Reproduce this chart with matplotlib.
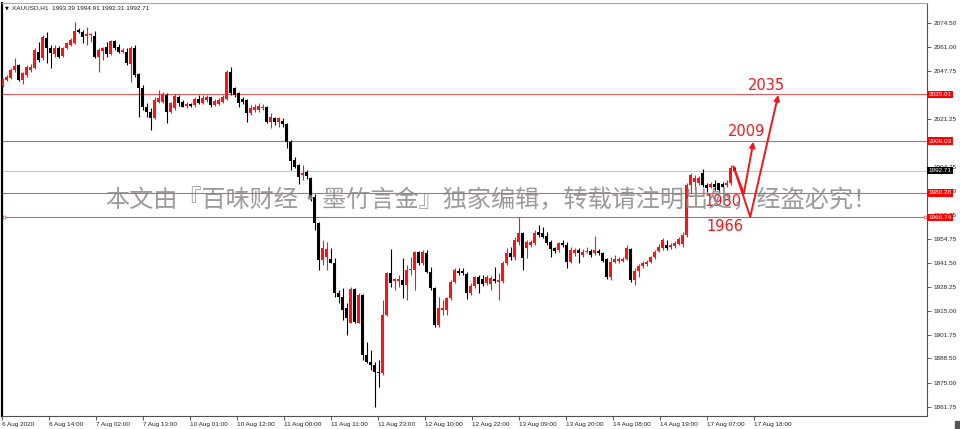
import matplotlib
matplotlib.use("Agg")
import matplotlib.pyplot as plt
from matplotlib.patches import Rectangle
import numpy as np

plt.rcParams['font.family'] = ['Liberation Sans', 'DejaVu Sans']

# XAUUSD H1 candles
opens = [
    2039.8, 2042.9, 2043.8, 2048.4, 2051.2, 2042.9, 2045.7, 2048.4, 2049.4, 2058.6,
    2054.9, 2066.4, 2060.5, 2057.1, 2060.8, 2056.4, 2060.5, 2062.3, 2063.2, 2070.6,
    2069.7, 2067.5, 2067.8, 2067.5, 2055.8, 2059.0, 2061.4, 2057.1, 2064.5, 2061.4,
    2058.6, 2058.6, 2051.6, 2060.8, 2046.0, 2038.6, 2028.1, 2025.3, 2021.6, 2030.9,
    2030.9, 2034.6, 2025.4, 2027.2, 2033.7, 2030.7, 2028.5, 2029.4, 2029.0, 2032.2,
    2029.9, 2031.8, 2033.3, 2029.0, 2029.6, 2030.9, 2032.2, 2047.5, 2038.3, 2035.5,
    2032.3, 2031.8, 2024.4, 2026.3, 2026.3, 2027.2, 2028.1, 2019.8, 2021.7, 2019.8,
    2020.3, 2018.5, 2008.7, 1998.5, 1995.8, 1990.2, 1992.1, 1988.4, 1978.2, 1963.4,
    1943.1, 1944.5, 1943.5, 1941.6, 1924.6, 1922.8, 1916.3, 1908.3, 1926.8, 1908.3,
    1923.7, 1890.4, 1886.7, 1884.9, 1881.2, 1880.3, 1912.6, 1936.1, 1931.2, 1931.7,
    1932.0, 1929.3, 1937.3, 1937.5, 1947.7, 1941.2, 1946.8, 1936.6, 1927.4, 1907.1,
    1915.4, 1915.4, 1921.8, 1931.1, 1937.0, 1937.2, 1935.3, 1924.6, 1928.7, 1933.5,
    1932.5, 1930.2, 1930.0, 1932.7, 1931.1, 1931.6, 1941.2, 1947.1, 1944.9, 1953.3,
    1957.9, 1949.6, 1951.4, 1952.3, 1958.8, 1957.9, 1956.4, 1953.3, 1949.6, 1948.6,
    1952.7, 1951.4, 1942.2, 1947.2, 1948.6, 1945.9, 1947.4, 1948.3, 1946.8, 1948.3,
    1946.8, 1943.5, 1933.9, 1942.2, 1942.7, 1942.7, 1943.5, 1949.0, 1932.0, 1937.2,
    1939.8, 1940.9, 1942.2, 1944.5, 1948.0, 1950.0, 1951.4, 1950.1, 1950.8, 1951.9,
    1952.0, 1956.9, 1984.6, 1986.5, 1985.6, 1991.1, 1984.6, 1983.7, 1985.2, 1985.6,
    1985.2, 1984.6, 1985.6, 1993.39,
]
highs = [
    2044.2, 2045.7, 2049.4, 2054.9, 2051.6, 2047.5, 2051.2, 2051.5, 2060.5, 2064.2,
    2067.9, 2069.7, 2062.3, 2062.3, 2061.9, 2061.2, 2063.8, 2066.0, 2075.2, 2071.5,
    2070.6, 2072.5, 2068.8, 2070.1, 2060.5, 2061.4, 2064.2, 2065.1, 2065.1, 2062.7,
    2060.5, 2060.5, 2061.9, 2062.3, 2046.6, 2040.1, 2030.0, 2027.2, 2033.7, 2037.4,
    2036.4, 2035.5, 2030.9, 2035.1, 2034.6, 2031.8, 2030.7, 2030.0, 2033.3, 2034.6,
    2034.6, 2034.6, 2033.7, 2032.2, 2033.0, 2034.6, 2048.4, 2050.3, 2039.2, 2036.4,
    2033.7, 2032.2, 2029.0, 2029.6, 2030.0, 2029.6, 2028.5, 2024.4, 2022.6, 2022.6,
    2021.7, 2018.9, 2009.6, 2000.4, 1996.5, 1995.5, 1993.0, 1989.3, 1979.5, 1964.0,
    1954.2, 1953.3, 1949.6, 1944.0, 1926.5, 1927.4, 1919.1, 1927.9, 1927.4, 1924.6,
    1924.3, 1897.8, 1893.2, 1886.7, 1887.6, 1920.9, 1936.6, 1949.0, 1933.0, 1934.8,
    1944.0, 1940.3, 1945.0, 1948.0, 1947.9, 1948.6, 1948.6, 1939.4, 1928.3, 1922.8,
    1920.9, 1922.8, 1932.0, 1938.5, 1938.5, 1938.9, 1936.5, 1930.2, 1934.5, 1935.0,
    1934.6, 1935.0, 1934.0, 1939.0, 1935.7, 1942.5, 1950.0, 1950.5, 1955.6, 1967.1,
    1958.8, 1954.2, 1954.2, 1959.7, 1962.5, 1961.6, 1958.8, 1954.2, 1950.5, 1953.3,
    1954.2, 1953.3, 1950.5, 1950.0, 1949.6, 1949.0, 1950.5, 1949.0, 1956.4, 1949.0,
    1947.7, 1944.0, 1944.9, 1945.9, 1944.9, 1944.9, 1951.4, 1949.6, 1938.5, 1940.9,
    1942.5, 1943.1, 1945.5, 1948.5, 1952.0, 1955.5, 1954.0, 1952.5, 1953.5, 1956.0,
    1958.8, 1985.6, 1991.1, 1990.2, 1989.5, 1993.3, 1985.6, 1986.5, 1987.4, 1986.0,
    1986.5, 1987.4, 1995.7, 1994.91,
]
lows = [
    2039.2, 2042.3, 2043.5, 2047.5, 2042.5, 2040.5, 2044.8, 2047.5, 2049.0, 2052.7,
    2054.0, 2052.2, 2049.4, 2055.8, 2054.9, 2055.5, 2060.1, 2061.9, 2062.7, 2068.8,
    2063.2, 2062.3, 2064.2, 2054.9, 2047.5, 2054.0, 2055.8, 2056.8, 2059.5, 2057.7,
    2057.7, 2051.2, 2042.0, 2044.8, 2022.6, 2026.3, 2022.6, 2015.2, 2021.2, 2030.0,
    2030.0, 2018.9, 2024.4, 2026.3, 2028.5, 2027.7, 2027.5, 2027.7, 2028.1, 2029.6,
    2029.6, 2030.9, 2027.7, 2028.5, 2029.0, 2030.0, 2031.8, 2034.6, 2033.7, 2028.1,
    2029.6, 2019.8, 2023.5, 2025.3, 2025.4, 2026.3, 2018.9, 2016.1, 2018.0, 2017.0,
    2017.0, 2005.0, 1993.0, 1993.9, 1985.5, 1987.5, 1988.0, 1976.0, 1960.0, 1937.5,
    1940.3, 1937.5, 1941.2, 1922.8, 1919.1, 1909.8, 1901.5, 1908.0, 1908.0, 1908.0,
    1887.6, 1885.8, 1882.1, 1861.8, 1872.9, 1879.3, 1912.0, 1928.3, 1926.5, 1928.3,
    1921.8, 1920.9, 1934.8, 1926.5, 1940.3, 1940.3, 1935.7, 1926.5, 1906.1, 1906.1,
    1912.6, 1912.6, 1920.9, 1930.2, 1934.8, 1934.8, 1921.2, 1923.7, 1927.4, 1924.6,
    1928.7, 1929.3, 1926.5, 1930.2, 1920.9, 1930.6, 1940.3, 1943.0, 1943.0, 1951.4,
    1937.5, 1944.0, 1950.5, 1951.4, 1956.0, 1955.1, 1951.4, 1944.9, 1946.8, 1947.7,
    1950.5, 1938.5, 1941.2, 1945.3, 1941.2, 1944.9, 1946.8, 1944.9, 1945.9, 1945.9,
    1942.2, 1932.4, 1932.0, 1941.6, 1941.6, 1942.2, 1943.1, 1931.1, 1929.2, 1933.9,
    1938.9, 1940.0, 1941.5, 1943.8, 1947.5, 1948.6, 1948.5, 1949.0, 1950.0, 1951.4,
    1950.5, 1956.0, 1980.0, 1981.9, 1984.5, 1983.7, 1981.0, 1982.8, 1982.0, 1981.0,
    1982.8, 1983.7, 1984.6, 1992.31,
]
closes = [
    2043.3, 2044.8, 2048.4, 2050.8, 2042.9, 2046.6, 2050.3, 2050.3, 2059.5, 2054.0,
    2066.9, 2060.5, 2057.7, 2060.8, 2055.8, 2060.5, 2063.2, 2065.1, 2070.1, 2069.3,
    2066.9, 2068.2, 2068.0, 2055.8, 2059.5, 2060.8, 2057.1, 2064.5, 2060.5, 2058.6,
    2059.5, 2052.2, 2060.8, 2045.7, 2038.3, 2028.1, 2025.3, 2021.7, 2031.8, 2032.7,
    2035.1, 2025.4, 2030.0, 2034.0, 2030.0, 2028.1, 2029.6, 2028.5, 2032.2, 2029.9,
    2032.7, 2033.3, 2029.0, 2031.2, 2031.8, 2033.7, 2047.5, 2035.5, 2034.6, 2029.9,
    2030.9, 2024.4, 2027.2, 2028.1, 2028.5, 2028.1, 2019.8, 2022.6, 2019.8, 2021.7,
    2018.5, 2008.7, 1998.0, 1994.8, 1989.3, 1991.5, 1989.5, 1977.3, 1963.4, 1943.1,
    1949.6, 1949.0, 1941.6, 1924.6, 1922.8, 1915.4, 1910.8, 1926.8, 1908.9, 1923.7,
    1890.4, 1886.7, 1884.9, 1881.2, 1880.3, 1912.6, 1936.1, 1930.2, 1932.3, 1932.6,
    1929.3, 1937.5, 1938.0, 1947.7, 1941.2, 1947.7, 1936.6, 1927.4, 1907.1, 1916.3,
    1916.3, 1921.8, 1931.1, 1937.5, 1936.1, 1935.7, 1925.0, 1928.7, 1933.5, 1929.8,
    1930.0, 1933.5, 1932.9, 1931.6, 1932.0, 1941.2, 1947.1, 1944.6, 1954.2, 1957.9,
    1944.0, 1953.3, 1953.3, 1957.9, 1956.9, 1956.0, 1952.7, 1949.0, 1948.3, 1952.7,
    1951.4, 1942.2, 1948.6, 1948.6, 1946.8, 1947.7, 1948.3, 1945.9, 1948.6, 1947.2,
    1942.7, 1933.9, 1942.2, 1943.5, 1943.5, 1943.5, 1949.6, 1932.0, 1937.2, 1939.8,
    1941.2, 1942.2, 1944.5, 1947.5, 1950.5, 1954.0, 1949.5, 1951.4, 1952.3, 1954.5,
    1956.9, 1984.6, 1990.2, 1988.3, 1988.3, 1984.6, 1982.8, 1985.2, 1983.7, 1981.9,
    1983.7, 1985.9, 1993.9, 1992.71,
]

xtick_pos = [-0.2, 11.6, 23.3, 35.1, 46.8, 58.6, 70.3, 82.1, 93.8, 105.6,
             117.3, 129.1, 140.8, 152.6, 164.3, 176.1, 187.8]
xtick_labels = ["6 Aug 2020", "6 Aug 14:00", "7 Aug 02:00", "7 Aug 13:00",
                "10 Aug 01:00", "10 Aug 12:00", "11 Aug 00:00", "11 Aug 11:00",
                "11 Aug 23:00", "12 Aug 10:00", "12 Aug 22:00", "13 Aug 09:00",
                "13 Aug 20:00", "14 Aug 08:00", "14 Aug 19:00", "17 Aug 07:00",
                "17 Aug 18:00"]
ytick_vals = [2074.50, 2061.00, 2047.75, 2034.50, 2021.25, 2008.00, 1994.75,
              1981.50, 1968.25, 1954.75, 1941.50, 1928.25, 1915.00, 1901.75,
              1888.50, 1875.00, 1861.75]
# scale labels that sit fully under a price tag in the screenshot
hidden_ticks = [2034.50, 2008.00]

# horizontal levels and current bid
level_vals = [2035.01, 2009.03, 1980.28, 1966.74]
bid = 1992.71

# hand drawn forecast paths (bar index, price)
path_short_x = [182.7, 185.3, 187.7]
path_short_y = [1994.9, 1980.1, 2008.7]
path_long_x = [182.7, 186.9, 193.9]
path_long_y = [1994.9, 1967.1, 2034.6]

target_labels = ["2035", "2009", "1980", "1966"]
target_x = [191.0, 186.0, 180.2, 180.6]
target_y = [2039.6, 2014.3, 1975.5, 1961.6]

watermark = "本文由『百味财经·墨竹言金』独家编辑，转载请注明出处，经盗必究！"

RED = "#f01818"

fig = plt.figure(figsize=(9.6, 4.29), dpi=100)
ax = fig.add_axes([2 / 960, 13 / 429, 925 / 960, 413 / 429])

o = np.array(opens)
h = np.array(highs)
l = np.array(lows)
c = np.array(closes)
x = np.arange(len(o))
up = c >= o
cols = np.where(up, RED, "#000000")

ax.vlines(x, l, h, colors=cols, lw=0.8, zorder=3)
body = np.maximum(np.abs(c - o), 0.35)
ax.bar(x, body, bottom=np.minimum(o, c), width=0.72, color=cols, lw=0, zorder=4)

for v in level_vals:
    ax.axhline(v, color="#e25c5c", lw=0.8, zorder=2)
ax.axhline(bid, color="#c8c8c8", lw=0.8, zorder=1)
# small anchor markers on the lowest level line
ax.plot([0.3, 230.5], [level_vals[3]] * 2, ls="none", marker="o", ms=2.2,
        mfc="white", mec="#e25c5c", mew=0.6, zorder=2)

# forecast arrows
for px, py in [(path_short_x, path_short_y), (path_long_x, path_long_y)]:
    ax.plot(px[:2], py[:2], color=RED, lw=1.4, zorder=6, solid_capstyle="round")
    ax.annotate("", xy=(px[2], py[2]), xytext=(px[1], py[1]),
                arrowprops=dict(arrowstyle="-|>", color=RED, lw=1.4,
                                mutation_scale=8, shrinkA=0, shrinkB=0),
                zorder=6)

for t, tx, ty in zip(target_labels, target_x, target_y):
    ax.text(tx, ty, t, color=RED, fontsize=10.5, ha="center", va="center",
            family=["DejaVu Sans"], zorder=7)

ax.set_xlim(-0.175, 231.1)
ax.set_ylim(1856.6, 2085.6)

ax.yaxis.tick_right()
ax.set_yticks(ytick_vals)
ax.set_yticklabels(["" if v in hidden_ticks else f"{v:.2f}" for v in ytick_vals])
ax.set_xticks(xtick_pos)
ax.set_xticklabels(xtick_labels, ha="left")
ax.tick_params(axis="both", labelsize=4.6, length=3, width=0.6,
               color="#404040", labelcolor="#222222", pad=1.5)

for side in ["right", "bottom"]:
    ax.spines[side].set_color("#505050")
    ax.spines[side].set_linewidth(0.8)
ax.spines["left"].set_color("#000000")
ax.spines["left"].set_linewidth(1.6)
ax.spines["top"].set_color("#a8a8a8")
ax.spines["top"].set_linewidth(0.8)

# price tags on the right scale
ytrans = ax.get_yaxis_transform()
for v in level_vals:
    ax.text(1.0016, v, f"{v:.2f}", transform=ytrans, ha="left", va="center",
            fontsize=4.6, color="white", clip_on=False, zorder=10,
            bbox=dict(boxstyle="square,pad=0.18", fc="#ff0000", ec="none"))
ax.text(1.0016, bid, f"{bid:.2f}", transform=ytrans, ha="left", va="center",
        fontsize=4.6, color="white", clip_on=False, zorder=10,
        bbox=dict(boxstyle="square,pad=0.18", fc="#000000", ec="none"))

# chart header
fig.text(5 / 960, 1 - 7.5 / 429, "▼", fontsize=3.5, va="center",
         family=["DejaVu Sans"])
fig.text(11.5 / 960, 1 - 7.5 / 429,
         "XAUUSD,H1  1993.39 1994.91 1992.31 1992.71",
         fontsize=4.6, va="center", color="#222222")

fig.text(105 / 960, 1 - 200 / 429, watermark, fontsize=17.4, color="#8a8a8a",
         alpha=0.85, ha="left", va="center",
         family=["Noto Sans CJK SC", "DejaVu Sans"], zorder=20)

fig.patches.append(Rectangle((955 / 960, 0), 5 / 960, 8 / 429,
                             transform=fig.transFigure, color="#555555"))

fig.savefig("out.png", dpi=100)
